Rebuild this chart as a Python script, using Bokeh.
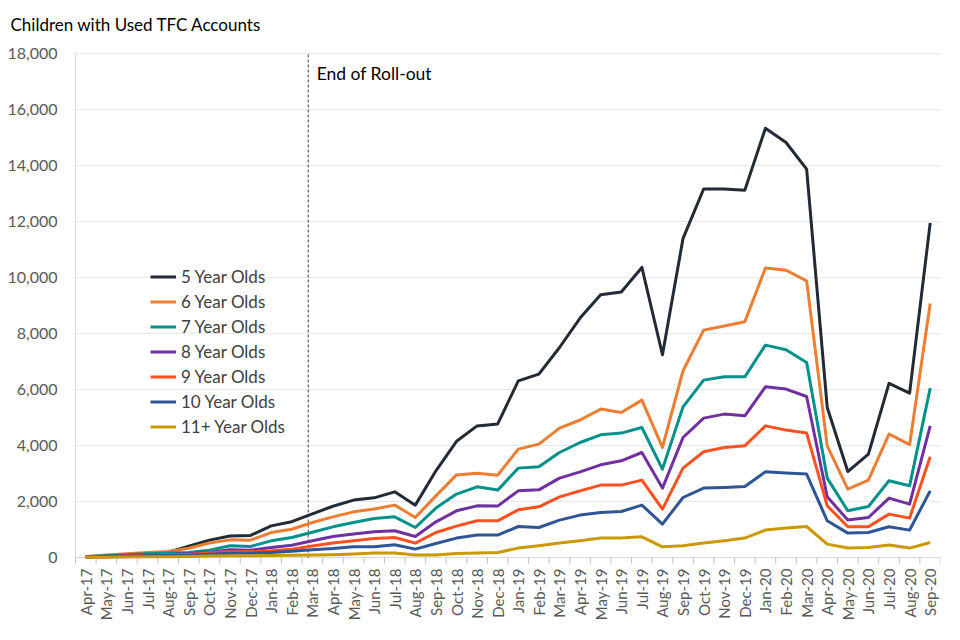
import math
from bokeh.plotting import figure
from bokeh.models import (Range1d, Label, Legend, LegendItem, ColumnDataSource)
from bokeh.core.properties import value
from bokeh.embed import file_html
from bokeh.resources import INLINE

months = ["Apr-17", "May-17", "Jun-17", "Jul-17", "Aug-17", "Sep-17", "Oct-17", "Nov-17",
          "Dec-17", "Jan-18", "Feb-18", "Mar-18", "Apr-18", "May-18", "Jun-18", "Jul-18",
          "Aug-18", "Sep-18", "Oct-18", "Nov-18", "Dec-18", "Jan-19", "Feb-19", "Mar-19",
          "Apr-19", "May-19", "Jun-19", "Jul-19", "Aug-19", "Sep-19", "Oct-19", "Nov-19",
          "Dec-19", "Jan-20", "Feb-20", "Mar-20", "Apr-20", "May-20", "Jun-20", "Jul-20",
          "Aug-20", "Sep-20"]

age5 = [30, 60, 100, 150, 190, 400, 620, 770, 790, 1130, 1280, 1560, 1830, 2050, 2130, 2345,
        1870, 3095, 4150, 4700, 4770, 6310, 6550, 7500, 8550, 9380, 9480, 10360, 7240, 11400,
        13160, 13160, 13120, 15330, 14820, 13870, 5360, 3070, 3690, 6220, 5870, 11950]
age6 = [36, 85, 130, 180, 215, 330, 520, 630, 620, 890, 1010, 1250, 1450, 1630, 1730, 1870,
        1430, 2200, 2950, 3010, 2940, 3870, 4050, 4620, 4910, 5300, 5180, 5620, 3930, 6670,
        8120, 8270, 8420, 10340, 10260, 9880, 3990, 2440, 2760, 4410, 4030, 9070]
age7 = [25, 60, 95, 130, 160, 180, 262, 417, 393, 595, 714, 900, 1095, 1250, 1393, 1452,
        1071, 1764, 2264, 2524, 2407, 3192, 3238, 3750, 4107, 4381, 4443, 4643, 3157, 5381,
        6335, 6452, 6452, 7585, 7417, 6964, 2835, 1667, 1821, 2739, 2560, 6050]
age8 = [20, 45, 70, 95, 110, 130, 180, 274, 262, 357, 440, 600, 750, 836, 917, 954,
        750, 1274, 1667, 1845, 1835, 2381, 2417, 2835, 3060, 3310, 3452, 3750, 2478, 4286,
        4978, 5121, 5060, 6095, 6014, 5750, 2167, 1336, 1428, 2121, 1907, 4702]
age9 = [15, 35, 55, 80, 95, 110, 160, 202, 202, 238, 298, 410, 514, 596, 679, 714,
        514, 893, 1121, 1310, 1310, 1703, 1810, 2167, 2381, 2585, 2585, 2764, 1728, 3192,
        3775, 3928, 3989, 4702, 4550, 4443, 1846, 1096, 1096, 1550, 1407, 3596]
age10 = [10, 25, 40, 60, 70, 80, 120, 155, 155, 180, 226, 280, 321, 382, 382, 453,
         300, 500, 693, 800, 800, 1107, 1071, 1336, 1514, 1607, 1643, 1871, 1193, 2143,
         2478, 2500, 2536, 3060, 3014, 2978, 1310, 871, 893, 1096, 978, 2381]
age11 = [5, 10, 20, 25, 30, 40, 50, 60, 60, 70, 80, 90, 100, 121, 157, 157,
         90, 90, 143, 157, 179, 336, 418, 514, 596, 693, 693, 739, 382, 418,
         514, 596, 693, 978, 1050, 1107, 478, 336, 357, 443, 336, 536]

series_names = ["5 Year Olds", "6 Year Olds", "7 Year Olds", "8 Year Olds",
                "9 Year Olds", "10 Year Olds", "11+ Year Olds"]
series_values = [age5, age6, age7, age8, age9, age10, age11]
series_colors = ["#222a35", "#ed7d31", "#00928a", "#7030a0", "#ff5020", "#2f5597", "#c99a00"]

y_ticks = [0, 2000, 4000, 6000, 8000, 10000, 12000, 14000, 16000, 18000]
y_max = 18000
rollout_pos = 10.8
rollout_text = "End of Roll-out"
title_text = "Children with Used TFC Accounts"

FONT = "Lato"
W, H = 944, 629
n = len(months)
x_idx = list(range(n))

# geometry (pixels): the frame covers the whole canvas so that title and axis texts sit inside it
plot_left_px, plot_top_px, plot_bottom_px = 75, 53, 557
px_per_cat = (W - 4 - plot_left_px) / n
px_per_val = y_max / (plot_bottom_px - plot_top_px)
x_start = -0.5 - plot_left_px / px_per_cat
y_end = y_max + plot_top_px * px_per_val
y_start = -(H - plot_bottom_px) * px_per_val

p = figure(width=W, height=H, output_backend="svg", toolbar_location=None,
           x_range=Range1d(x_start, n - 0.5), y_range=Range1d(y_start, y_end),
           min_border_left=0, min_border_right=4, min_border_top=0, min_border_bottom=0)
p.outline_line_color = None
p.background_fill_color = "white"
p.border_fill_color = "white"
p.grid.grid_line_color = None
p.axis.visible = False

# horizontal gridlines and axis lines
p.segment(x0=[-0.5] * len(y_ticks), x1=[n - 0.5] * len(y_ticks), y0=y_ticks, y1=y_ticks,
          line_color="#e8e8e8", line_width=1)
p.segment(x0=[-0.5], x1=[-0.5], y0=[0], y1=[y_max], line_color="#d9d9d9", line_width=1)
p.segment(x0=[-0.5], x1=[n - 0.5], y0=[0], y1=[0], line_color="#d9d9d9", line_width=1)

# y tick labels
ylab_x = -0.5 - 18 / px_per_cat
p.text(x=[ylab_x] * len(y_ticks), y=y_ticks, text=[f"{v:,}" for v in y_ticks],
       text_align="right", text_baseline="middle", text_font=value(FONT),
       text_font_size="16px", text_color="#595959")

# x tick marks between categories and rotated month labels
bounds = [i - 0.5 for i in range(n + 1)]
p.segment(x0=bounds, x1=bounds, y0=[0] * len(bounds), y1=[-6 * px_per_val] * len(bounds),
          line_color="#bfbfbf", line_width=1)
p.text(x=x_idx, y=[-11 * px_per_val] * n, text=months, angle=math.pi / 2,
       text_align="right", text_baseline="middle", text_font=value(FONT),
       text_font_size="15px", text_color="#595959")

# roll-out marker
p.segment(x0=[rollout_pos], x1=[rollout_pos], y0=[0], y1=[y_max], line_color="#404040",
          line_dash="3 2", line_width=1)
p.add_layout(Label(x=rollout_pos + 0.41, y=17274, text=rollout_text, text_baseline="middle",
                   text_font=FONT, text_font_size="17.5px", text_color="#000000"))

# series
items = []
for name, vals, col in zip(series_names, series_values, series_colors):
    src = ColumnDataSource(dict(x=x_idx, y=vals))
    r = p.line("x", "y", source=src, line_color=col, line_width=3, line_join="round")
    items.append(LegendItem(label=name, renderers=[r]))

# title
p.add_layout(Label(x=x_start + 10 / px_per_cat, y=y_end - 24 * px_per_val, text=title_text,
                   text_baseline="middle", text_font=FONT, text_font_size="17px",
                   text_color="#000000"))

legend = Legend(items=items, location=(150, 120 + (H - plot_bottom_px)), padding=0, margin=0,
                spacing=4, label_height=21, glyph_height=21, glyph_width=26, label_standoff=5,
                border_line_color=None, background_fill_alpha=0,
                label_text_font=FONT, label_text_font_size="17px",
                label_text_color="#404040")
p.add_layout(legend)

open("out.html", "w").write(file_html(p, INLINE))
